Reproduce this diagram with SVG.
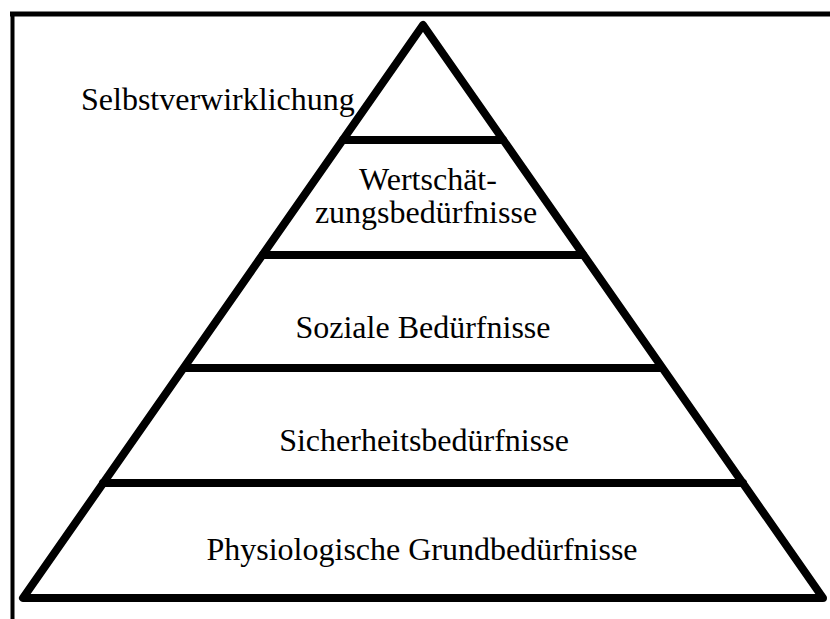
<svg xmlns="http://www.w3.org/2000/svg" width="830" height="619" viewBox="0 0 830 619">
<style>
.t{font-family:"Liberation Serif","Times New Roman",serif;font-size:32px;fill:#000}
.m{text-anchor:middle}
.ln{stroke:#000;stroke-width:8;fill:none;stroke-linecap:round;stroke-linejoin:round}
</style>
<rect width="830" height="619" fill="#fff"/>
<g id="frame">
<line x1="10" y1="14" x2="830" y2="14" stroke="#000" stroke-width="5"/>
<line x1="12.5" y1="12" x2="12.5" y2="619" stroke="#000" stroke-width="4"/>
</g>
<g id="connectors">
<polygon class="ln" points="423,25 23,598 823,598"/>
<line class="ln" x1="343" y1="140" x2="503" y2="140"/>
<line class="ln" x1="263" y1="255" x2="583" y2="255"/>
<line class="ln" x1="185" y1="368" x2="661" y2="368"/>
<line class="ln" x1="103" y1="483" x2="743" y2="483"/>
</g>
<g id="n1"><text class="t" x="81" y="110">Selbstverwirklichung</text></g>
<g id="n2"><text class="t m" x="428" y="190">Wertschät-</text><text class="t m" x="426" y="223">zungsbedürfnisse</text></g>
<g id="n3"><text class="t m" x="423" y="338">Soziale Bedürfnisse</text></g>
<g id="n4"><text class="t m" x="424" y="451">Sicherheitsbedürfnisse</text></g>
<g id="n5"><text class="t m" x="422" y="560">Physiologische Grundbedürfnisse</text></g>
</svg>
